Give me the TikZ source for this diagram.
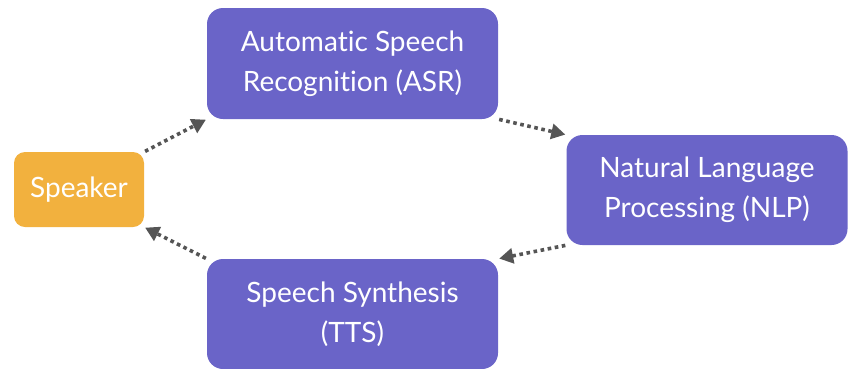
\documentclass[tikz,border=0pt]{standalone}
\usepackage{fontspec}
\setmainfont{Lato}[Ligatures=NoCommon]
\usetikzlibrary{arrows.meta}
\definecolor{boxpurple}{RGB}{106,100,200}
\definecolor{boxorange}{RGB}{242,177,62}
\definecolor{arrowgray}{RGB}{85,85,85}
\begin{document}
\begin{tikzpicture}[x=1pt,y=-1pt,
  stagebox/.style={fill=boxpurple, draw=none, rounded corners=16pt, text=white,
    align=center, font=\fontsize{28}{40}\selectfont, inner sep=0pt},
  spkbox/.style={fill=boxorange, draw=none, rounded corners=11pt, text=white,
    align=center, font=\fontsize{28}{40}\selectfont, inner sep=0pt},
  flow/.style={arrowgray, line width=3.6pt, dash pattern=on 3.6pt off 3.6pt,
    -{Triangle[length=14pt,width=15pt]}, shorten >=1pt, shorten <=1pt}]
\useasboundingbox (0,0) rectangle (850,368);
\clip (0,0) rectangle (850,368);
\node[spkbox, minimum width=130pt, minimum height=75pt] (spk) at (79,189.5) {Speaker};
\node[stagebox, minimum width=291pt, minimum height=111pt] (asr) at (352.5,63.5)
  {Automatic Speech\\Recognition (ASR)};
\node[stagebox, minimum width=281pt, minimum height=110pt] (nlp) at (707,190)
  {Natural Language\\Processing (NLP)};
\node[stagebox, minimum width=291pt, minimum height=110pt] (tts) at (352.5,314)
  {Speech Synthesis\\(TTS)};
\draw[flow] (spk.north east) -- (asr.south west);
\draw[flow] (asr.south east) -- (nlp.north west);
\draw[flow] (nlp.south west) -- (tts.north east);
\draw[flow] (tts.north west) -- (spk.south east);
\end{tikzpicture}
\end{document}
